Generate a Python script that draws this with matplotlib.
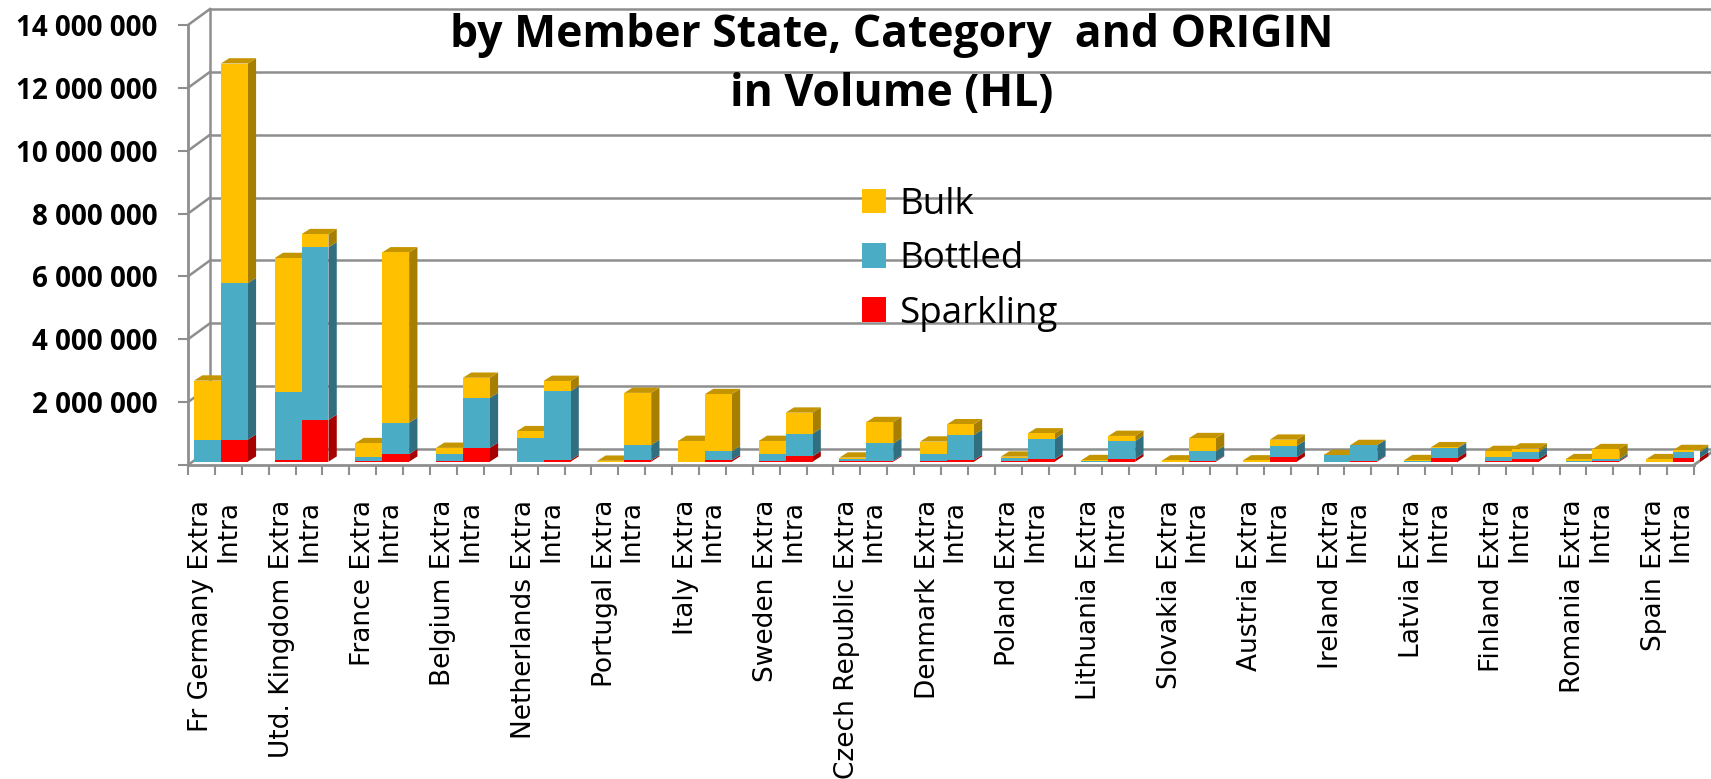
import matplotlib
matplotlib.use("Agg")
import matplotlib.pyplot as plt
from matplotlib.collections import PolyCollection
from matplotlib.patches import Patch

# Volumes in million HL, per member state, split by origin (Extra / Intra)
countries = ["Fr Germany", "Utd. Kingdom", "France", "Belgium", "Netherlands",
             "Portugal", "Italy", "Sweden", "Czech Republic", "Denmark",
             "Poland", "Lithuania", "Slovakia", "Austria", "Ireland",
             "Latvia", "Finland", "Romania", "Spain"]

bulk_extra      = [1.90, 4.25, 0.44, 0.21, 0.22, 0.03, 0.66, 0.40, 0.05, 0.38,
                   0.03, 0.02, 0.04, 0.04, 0.01, 0.02, 0.20, 0.05, 0.08]
bottled_extra   = [0.68, 2.18, 0.12, 0.22, 0.75, 0.00, 0.00, 0.24, 0.06, 0.24,
                   0.12, 0.03, 0.00, 0.00, 0.20, 0.03, 0.12, 0.03, 0.00]
sparkling_extra = [0.00, 0.05, 0.03, 0.01, 0.00, 0.00, 0.00, 0.02, 0.02, 0.02,
                   0.01, 0.00, 0.00, 0.00, 0.00, 0.00, 0.02, 0.00, 0.00]

bulk_intra      = [6.99, 0.42, 5.42, 0.64, 0.33, 1.66, 1.82, 0.67, 0.68, 0.34,
                   0.18, 0.16, 0.42, 0.20, 0.00, 0.03, 0.11, 0.31, 0.06]
bottled_intra   = [4.98, 5.49, 1.00, 1.59, 2.19, 0.49, 0.28, 0.72, 0.55, 0.80,
                   0.64, 0.57, 0.31, 0.36, 0.51, 0.30, 0.23, 0.06, 0.18]
sparkling_intra = [0.70, 1.33, 0.24, 0.44, 0.05, 0.04, 0.05, 0.17, 0.03, 0.05,
                   0.08, 0.09, 0.02, 0.14, 0.02, 0.13, 0.08, 0.03, 0.13]

series_names = ["Bulk", "Bottled", "Sparkling"]
y_ticks = [0, 2e6, 4e6, 6e6, 8e6, 10e6, 12e6, 14e6]

# --- styling --------------------------------------------------------------
FRONT = {"Bulk": "#FFC000", "Bottled": "#4BACC6", "Sparkling": "#FF0000"}
SIDE  = {"Bulk": "#A67F00", "Bottled": "#316F80", "Sparkling": "#A60000"}
TOP   = "#C49500"
GRID  = "#8E8E8E"

W, H = 1711, 779
X0, X1, Y0, Y1 = 188, 1694, 465, 25          # plot box in pixels
N_SLOTS = 56
PX_SLOT = (X1 - X0) / N_SLOTS
PX_M = (Y0 - Y1) / 14e6

def dx(px):
    return px / PX_SLOT

def dy(px):
    return px / PX_M

WALL_DX, WALL_DY = dx(22), dy(16)            # floor depth (back wall offset)
SHIFT, LIFT = dx(6), dy(3.3)                 # bar front plane inside the floor
BAR_DX, BAR_DY = dx(8.3), dy(5.3)            # bar depth

fig = plt.figure(figsize=(W / 100, H / 100), dpi=100)
ax = fig.add_axes([X0 / W, 1 - Y0 / H, (X1 - X0) / W, (Y0 - Y1) / H])
ax.set_xlim(0, N_SLOTS)
ax.set_ylim(0, 14e6)
ax.patch.set_alpha(0)

# back wall gridlines with diagonal floor/wall joins
for v in y_ticks:
    ax.plot([0, WALL_DX], [v, v + WALL_DY], color=GRID, lw=1.8, clip_on=False, zorder=1)
    ax.plot([WALL_DX, N_SLOTS + 2], [v + WALL_DY] * 2, color=GRID, lw=1.8,
            clip_on=False, zorder=1)
ax.plot([WALL_DX, WALL_DX], [WALL_DY, 14e6 + WALL_DY], color=GRID, lw=1.8,
        clip_on=False, zorder=1)
ax.plot([N_SLOTS, N_SLOTS + WALL_DX], [0, WALL_DY], color=GRID, lw=2,
        clip_on=False, zorder=1)

# stacked bars: Extra in slot 3i, Intra in slot 3i+1
xs, stacks = [], []
for i in range(len(countries)):
    xs.append(3 * i + SHIFT)
    stacks.append((sparkling_extra[i], bottled_extra[i], bulk_extra[i]))
    xs.append(3 * i + 1 + SHIFT)
    stacks.append((sparkling_intra[i], bottled_intra[i], bulk_intra[i]))

order = ["Sparkling", "Bottled", "Bulk"]
bottoms = [LIFT] * len(xs)
sides = {k: [] for k in order}
tops = []
for k, name in enumerate(order):
    heights = [s[k] * 1e6 for s in stacks]
    ax.bar(xs, heights, width=1, bottom=bottoms, align="edge",
           color=FRONT[name], linewidth=0, zorder=3)
    for x, b, h in zip(xs, bottoms, heights):
        r = x + 1
        sides[name].append([(r, b), (r + BAR_DX, b + BAR_DY),
                            (r + BAR_DX, b + h + BAR_DY), (r, b + h)])
    bottoms = [b + h for b, h in zip(bottoms, heights)]

for x, t in zip(xs, bottoms):
    tops.append([(x, t), (x + BAR_DX, t + BAR_DY), (x + 1 + BAR_DX, t + BAR_DY), (x + 1, t)])

for name in order:
    ax.add_collection(PolyCollection(sides[name], facecolor=SIDE[name],
                                     edgecolor="none", zorder=2, clip_on=False))
ax.add_collection(PolyCollection(tops, facecolor=TOP, edgecolor="none",
                                 zorder=2, clip_on=False))

# axes
for s in ["top", "right"]:
    ax.spines[s].set_visible(False)
for s in ["left", "bottom"]:
    ax.spines[s].set_color(GRID)
    ax.spines[s].set_linewidth(2)

ax.set_yticks(y_ticks)
ax.set_yticklabels([""] + [f"{int(v):,}".replace(",", " ") for v in y_ticks[1:]],
                   fontsize=20, fontweight="bold", family="Open Sans")
ax.tick_params(axis="y", length=7.2, width=1.5, color=GRID, pad=15)

label_pos, labels = [], []
for i, c in enumerate(countries):
    label_pos += [3 * i + 0.5, 3 * i + 1.5]
    labels += [f"{c} Extra", "Intra"]
ax.set_xticks(label_pos)
ax.set_xticklabels(labels, rotation=90, fontsize=19, family="DejaVu Sans")
ax.set_xticks(range(N_SLOTS + 1), minor=True)
ax.tick_params(axis="x", which="major", length=0, pad=25)
ax.tick_params(axis="x", which="minor", length=7.2, width=1.5, color=GRID)

# title
fig.text(892 / W, 1 - 47 / H, "by Member State, Category  and ORIGIN",
         ha="center", va="baseline", fontsize=32, fontweight="bold", family="Open Sans")
fig.text(892 / W, 1 - 106 / H, "in Volume (HL)",
         ha="center", va="baseline", fontsize=32, fontweight="bold", family="Open Sans")

# legend
handles = [Patch(facecolor=FRONT[n], label=n) for n in series_names]
fig.legend(handles=handles, loc="upper left", bbox_to_anchor=(862 / W, 1 - 187 / H),
           frameon=False, prop={"family": "Open Sans", "size": 26.5},
           handlelength=0.66, handleheight=0.66, handletextpad=0.35,
           labelspacing=0.5, borderpad=0, borderaxespad=0)

fig.savefig("out.png", dpi=100)
